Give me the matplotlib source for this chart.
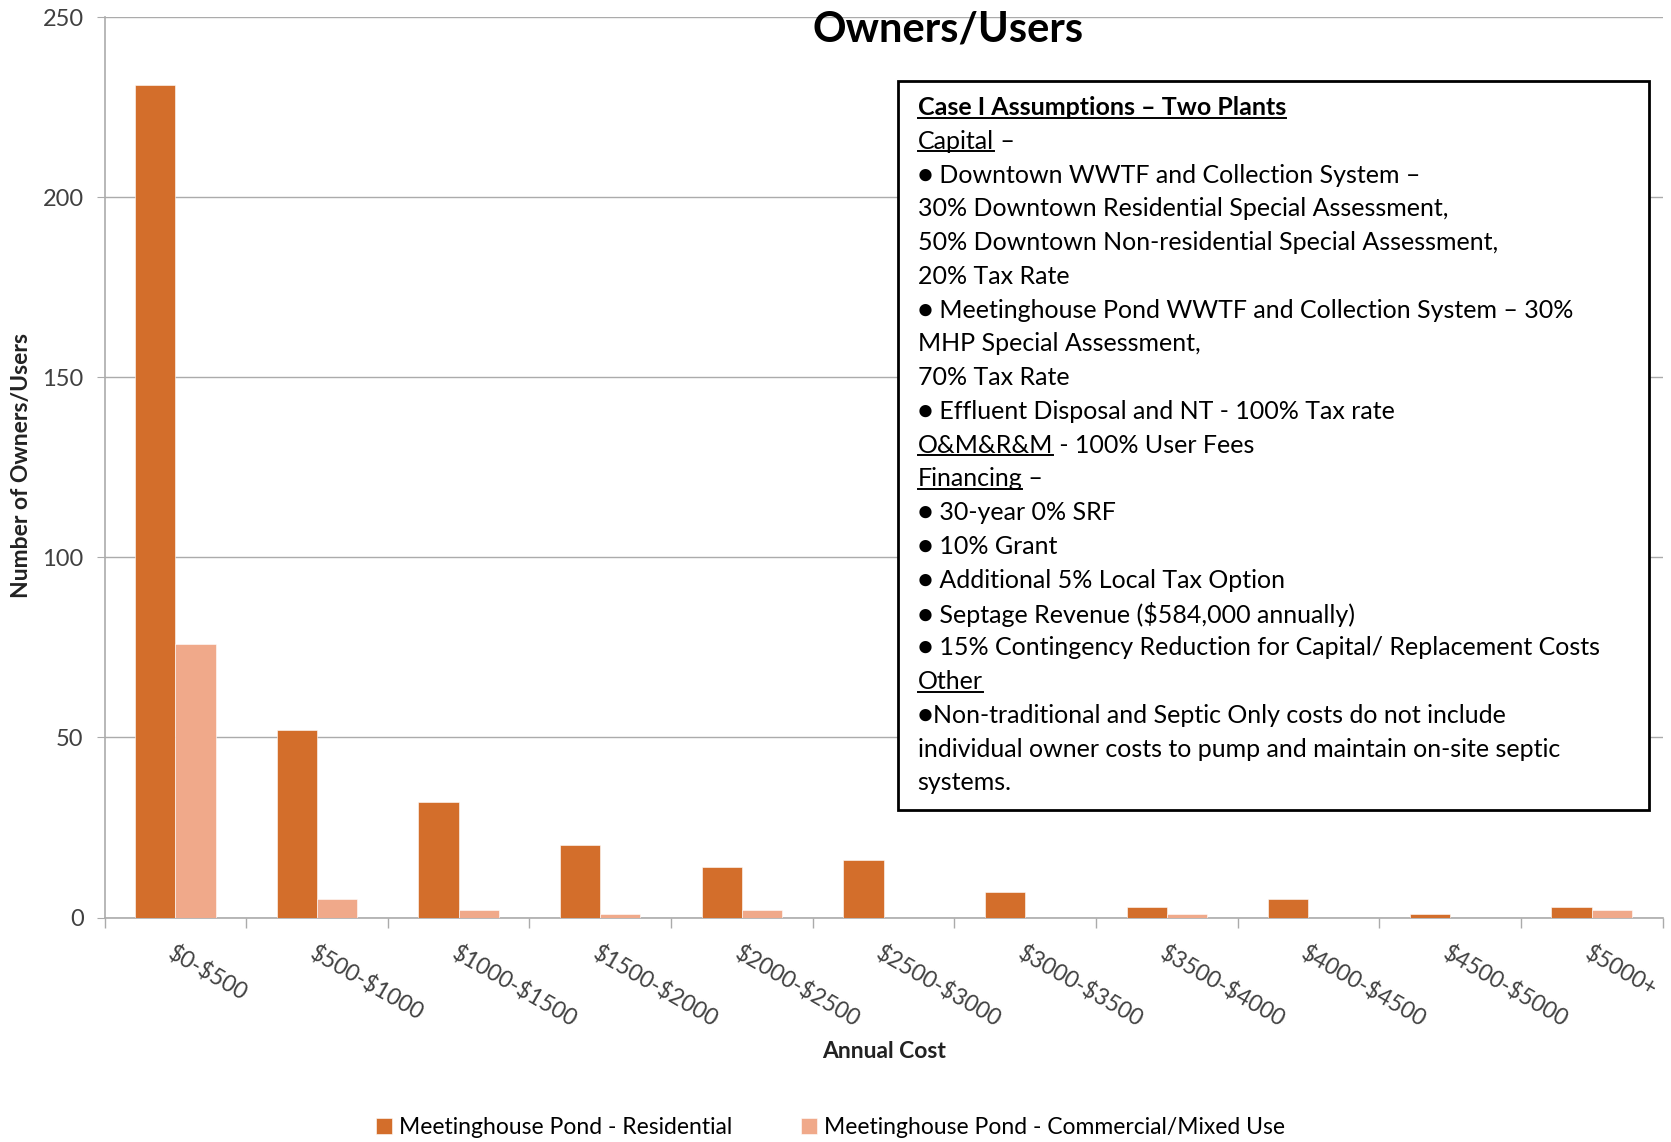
import numpy as np
import matplotlib
matplotlib.use("Agg")
import matplotlib.pyplot as plt
from matplotlib.patches import Rectangle
from matplotlib.lines import Line2D

plt.rcParams['font.family'] = ['Lato', 'DejaVu Sans']
plt.rcParams['text.parse_math'] = False

# annual cost brackets and owner counts
categories = ["$0-$500", "$500-$1000", "$1000-$1500", "$1500-$2000", "$2000-$2500",
              "$2500-$3000", "$3000-$3500", "$3500-$4000", "$4000-$4500",
              "$4500-$5000", "$5000+"]
residential = [231, 52, 32, 20, 14, 16, 7, 3, 5, 1, 3]
commercial = [76, 5, 2, 1, 2, 0, 0, 1, 0, 0, 2]
series_names = ["Meetinghouse Pond - Residential",
                "Meetinghouse Pond - Commercial/Mixed Use"]

# assumptions box: (underlined part, plain part, bold)
notes = [
    ("Case I Assumptions \u2013 Two Plants", "", True),
    ("Capital", " \u2013", False),
    ("", "\u25cf Downtown WWTF and Collection System \u2013", False),
    ("", "30% Downtown Residential Special Assessment,", False),
    ("", "50% Downtown Non-residential Special Assessment,", False),
    ("", "20% Tax Rate", False),
    ("", "\u25cf Meetinghouse Pond WWTF and Collection System \u2013 30%", False),
    ("", "MHP Special Assessment,", False),
    ("", "70% Tax Rate", False),
    ("", "\u25cf Effluent Disposal and NT - 100% Tax rate", False),
    ("O&M&R&M", " - 100% User Fees", False),
    ("Financing", " \u2013", False),
    ("", "\u25cf 30-year 0% SRF", False),
    ("", "\u25cf 10% Grant", False),
    ("", "\u25cf Additional 5% Local Tax Option", False),
    ("", "\u25cf Septage Revenue ($584,000 annually)", False),
    ("", "\u25cf 15% Contingency Reduction for Capital/ Replacement Costs", False),
    ("Other", "", False),
    ("", "\u25cfNon-traditional and Septic Only costs do not include", False),
    ("", "individual owner costs to pump and maintain on-site septic", False),
    ("", "systems.", False),
]

c_res = "#D36E2B"
c_com = "#F0A98A"
grid_c = "#ABABAB"

W, H = 1671, 1142
fig = plt.figure(figsize=(W / 100, H / 100), dpi=100)
ax = fig.add_axes([104.5 / W, 1 - 917.5 / H, (1662.5 - 104.5) / W, (917.5 - 17) / H])

x = np.arange(len(categories))
bw = 0.284
ax.bar(x - bw / 2, residential, bw, color=c_res, edgecolor="white", linewidth=0.4,
       label=series_names[0], zorder=3)
ax.bar(x + bw / 2, commercial, bw, color=c_com, edgecolor="white", linewidth=0.4,
       label=series_names[1], zorder=3)

ax.set_xlim(-0.5, len(categories) - 0.5)
ax.set_ylim(0, 250)
ax.set_yticks(np.arange(0, 251, 50))
ax.yaxis.grid(True, color=grid_c, linewidth=1.0, zorder=0)
ax.set_axisbelow(True)
for s in ["top", "right"]:
    ax.spines[s].set_visible(False)
for s in ["left", "bottom"]:
    ax.spines[s].set_color(grid_c)
    ax.spines[s].set_linewidth(1.2)

# category boundary ticks, labels at the group centres
ax.set_xticks(np.arange(-0.5, len(categories), 1.0))
ax.set_xticklabels([])
ax.tick_params(axis="x", which="major", length=7, color=grid_c, width=1.0)
ax.set_xticks(x, minor=True)
ax.set_xticklabels(categories, minor=True, rotation=-30, ha="left",
                   rotation_mode="anchor", fontsize=16.5, color="#404040")
ax.tick_params(axis="x", which="minor", length=0, pad=18)
ax.tick_params(axis="y", length=6, color=grid_c, labelsize=17, labelcolor="#404040", pad=9)

fig.text(948 / W, 1 - 30 / H, "Owners/Users", ha="center", va="center",
         fontsize=30, fontweight="bold", color="black")
fig.text(884 / W, 1 - 1052 / H, "Annual Cost", ha="center", va="center",
         fontsize=16.5, fontweight="bold", color="#222222")
fig.text(22 / W, 1 - 466 / H, "Number of Owners/Users", ha="center", va="center",
         rotation=90, fontsize=16.5, fontweight="bold", color="#222222")

# assumptions box
box = Rectangle((898 / W, 1 - 810 / H), (1649 - 898) / W, (810 - 81) / H,
                transform=fig.transFigure, facecolor="white", edgecolor="black",
                linewidth=2.0, zorder=5)
fig.patches.append(box)

fs_note = 18
x0 = 917.5
y_first, step = 107.5, 33.77
pending = []
for i, (ul, rest, bold) in enumerate(notes):
    yy = 1 - (y_first + i * step) / H
    w = "bold" if bold else "normal"
    if ul:
        t = fig.text(x0 / W, yy, ul, ha="left", va="center", fontsize=fs_note,
                     fontweight=w, zorder=6)
        pending.append((t, rest, yy, w))
    else:
        fig.text(x0 / W, yy, rest, ha="left", va="center", fontsize=fs_note,
                 fontweight=w, zorder=6)

# underline the headings and put the rest of the line after them
fig.canvas.draw()
r = fig.canvas.get_renderer()
for t, rest, yy, w in pending:
    bb = t.get_window_extent(r)
    yl = bb.y0 + 1.5
    fig.lines.append(Line2D([bb.x0 / W, bb.x1 / W], [yl / H, yl / H],
                            transform=fig.transFigure, color="black",
                            linewidth=1.4, zorder=7))
    if rest:
        fig.text(bb.x1 / W, yy, rest, ha="left", va="center", fontsize=fs_note,
                 fontweight=w, zorder=6)

fig.legend(loc="center", bbox_to_anchor=(0.497, 1 - 1127.5 / H), ncol=2,
           frameon=False, fontsize=16.5, handlelength=0.7, handleheight=0.7,
           handletextpad=0.3, columnspacing=3.0)

fig.savefig("out.png", dpi=100, facecolor="white")
